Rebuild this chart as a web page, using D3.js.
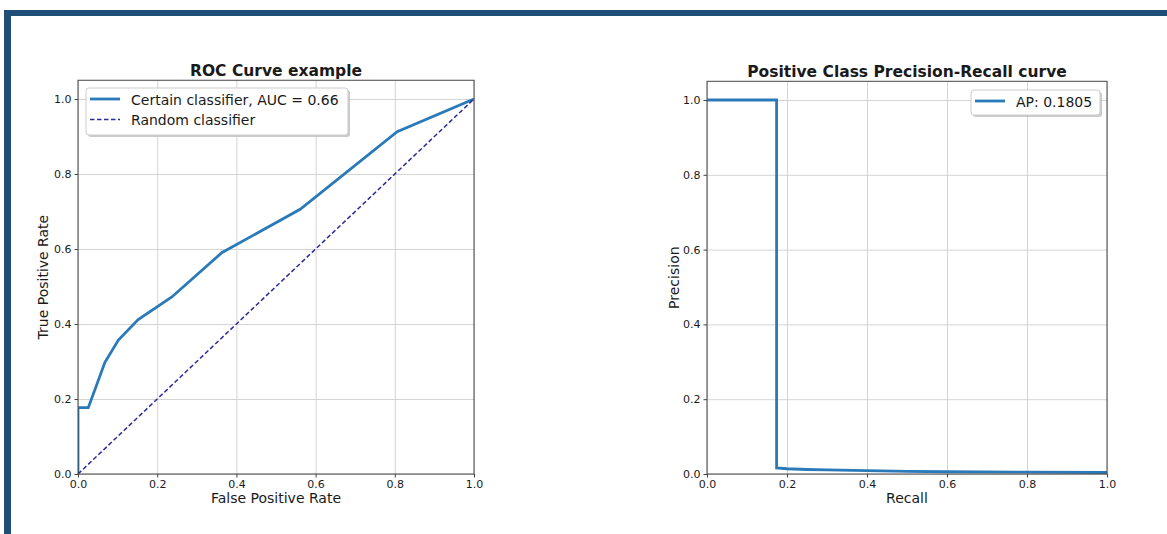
<!DOCTYPE html>
<html>
<head>
<meta charset="utf-8">
<script src="https://cdn.jsdelivr.net/npm/d3@7"></script>
<style>
  body { margin: 0; background: #fff; }
  text { font-family: "DejaVu Sans", sans-serif; fill: #1a1a1a; }
</style>
</head>
<body>
<div id="chart"></div>
<script>
// ROC curve
const rocFpr = [0, 0, 0.026, 0.068, 0.102, 0.152, 0.237, 0.363, 0.561, 0.806, 1.0];
const rocTpr = [0, 0.177, 0.177, 0.298, 0.357, 0.412, 0.472, 0.59, 0.706, 0.913, 1.0];
const randomLine = [0, 1];

// precision-recall curve
const prRecall    = [0, 0.174, 0.174, 0.2, 0.25, 0.3, 0.4, 0.5, 0.6, 0.8, 1.0];
const prPrecision = [1, 1, 0.016, 0.014, 0.012, 0.011, 0.009, 0.007, 0.006, 0.005, 0.004];

const tickValues = [0, 0.2, 0.4, 0.6, 0.8, 1.0];

const rocLabels = ['Certain classifier, AUC = 0.66', 'Random classifier'];
const prLabels = ['AP: 0.1805'];

const blue = '#2a7ab9';
const navy = '#2a2a98';

const svg = d3.select('#chart').append('svg')
    .attr('width', 1167)
    .attr('height', 534);

// page frame (dark blue bars on top and left)
svg.append('rect').attr('x', 4).attr('y', 10).attr('width', 1163).attr('height', 6).attr('fill', '#1f4e79');
svg.append('rect').attr('x', 4).attr('y', 10).attr('width', 7).attr('height', 524).attr('fill', '#1f4e79');

function drawPanel(cfg) {
  const x = d3.scaleLinear().domain([0, 1]).range([cfg.left, cfg.right]);
  const y = d3.scaleLinear().domain([0, 1.05]).range([cfg.bottom, cfg.bottom - 1.05 * cfg.unitY]);
  const top = y(1.05);
  const g = svg.append('g');

  // grid
  g.append('g')
      .attr('transform', `translate(0,${cfg.bottom})`)
      .call(d3.axisBottom(x).tickValues(tickValues).tickSize(-(cfg.bottom - top)).tickFormat(''))
      .call(s => s.select('.domain').remove())
      .call(s => s.selectAll('line').attr('stroke', '#d4d4d4'));
  g.append('g')
      .attr('transform', `translate(${cfg.left},0)`)
      .call(d3.axisLeft(y).tickValues(tickValues).tickSize(-(cfg.right - cfg.left)).tickFormat(''))
      .call(s => s.select('.domain').remove())
      .call(s => s.selectAll('line').attr('stroke', '#d4d4d4'));

  // axes
  const fmt = d3.format('.1f');
  g.append('g')
      .attr('transform', `translate(0,${cfg.bottom})`)
      .call(d3.axisBottom(x).tickValues(tickValues).tickFormat(fmt).tickSize(3.5).tickPadding(3))
      .call(s => s.select('.domain').remove())
      .call(s => s.selectAll('line').attr('stroke', '#444'))
      .call(s => s.selectAll('text').attr('font-size', 11).attr('font-family', 'DejaVu Sans').attr('fill', '#1a1a1a'));
  g.append('g')
      .attr('transform', `translate(${cfg.left},0)`)
      .call(d3.axisLeft(y).tickValues(tickValues).tickFormat(fmt).tickSize(3.5).tickPadding(3))
      .call(s => s.select('.domain').remove())
      .call(s => s.selectAll('line').attr('stroke', '#444'))
      .call(s => s.selectAll('text').attr('font-size', 11).attr('font-family', 'DejaVu Sans').attr('fill', '#1a1a1a'));

  const clipId = 'clip-' + cfg.id;
  svg.append('clipPath').attr('id', clipId)
    .append('rect')
      .attr('x', cfg.left).attr('y', top)
      .attr('width', cfg.right - cfg.left).attr('height', cfg.bottom - top);

  const plot = g.append('g').attr('clip-path', `url(#${clipId})`);
  const line = d3.line().x(d => x(d[0])).y(d => y(d[1]));

  cfg.series.forEach(s => {
    plot.append('path')
        .datum(d3.zip(s.xs, s.ys))
        .attr('d', line)
        .attr('fill', 'none')
        .attr('stroke', s.color)
        .attr('stroke-width', s.width)
        .attr('stroke-dasharray', s.dash || null);
  });

  // frame
  g.append('rect')
      .attr('x', cfg.left).attr('y', top)
      .attr('width', cfg.right - cfg.left).attr('height', cfg.bottom - top)
      .attr('fill', 'none').attr('stroke', '#444').attr('stroke-width', 1);

  // titles
  g.append('text')
      .attr('x', (cfg.left + cfg.right) / 2).attr('y', top - 4)
      .attr('text-anchor', 'middle').attr('font-size', 15.5).attr('font-weight', 'bold')
      .attr('fill', '#000')
      .text(cfg.title);
  g.append('text')
      .attr('x', (cfg.left + cfg.right) / 2).attr('y', cfg.bottom + 29)
      .attr('text-anchor', 'middle').attr('font-size', 14)
      .text(cfg.xLabel);
  g.append('text')
      .attr('transform', `translate(${cfg.yLabelX},${(top + cfg.bottom) / 2}) rotate(-90)`)
      .attr('text-anchor', 'middle').attr('font-size', 14)
      .text(cfg.yLabel);

  // legend
  const lg = cfg.legend;
  g.append('rect')
      .attr('x', lg.x + 2).attr('y', lg.y + 2)
      .attr('width', lg.w).attr('height', lg.h).attr('rx', 3)
      .attr('fill', '#bdbdbd').attr('opacity', 0.8);
  g.append('rect')
      .attr('x', lg.x).attr('y', lg.y)
      .attr('width', lg.w).attr('height', lg.h).attr('rx', 3)
      .attr('fill', '#fff').attr('stroke', '#cccccc');
  cfg.series.forEach((s, i) => {
    const ly = lg.y + 11 + i * 20.5;
    g.append('line')
        .attr('x1', lg.x + 4).attr('x2', lg.x + 34)
        .attr('y1', ly).attr('y2', ly)
        .attr('stroke', s.color).attr('stroke-width', s.width)
        .attr('stroke-dasharray', s.dash || null);
    g.append('text')
        .attr('x', lg.x + 45).attr('y', ly + 5.5)
        .attr('font-size', 14)
        .text(s.label);
  });
}

drawPanel({
  id: 'roc',
  left: 78, right: 474, bottom: 474, unitY: 375,
  title: 'ROC Curve example',
  xLabel: 'False Positive Rate',
  yLabel: 'True Positive Rate',
  yLabelX: 48,
  legend: {x: 86, y: 88, w: 262, h: 47},
  series: [
    {xs: rocFpr, ys: rocTpr, color: blue, width: 2.8, label: rocLabels[0]},
    {xs: randomLine, ys: randomLine, color: navy, width: 1.5, dash: '4.5,2.5', label: rocLabels[1]}
  ]
});

drawPanel({
  id: 'pr',
  left: 707, right: 1107, bottom: 474, unitY: 374,
  title: 'Positive Class Precision-Recall curve',
  xLabel: 'Recall',
  yLabel: 'Precision',
  yLabelX: 679,
  legend: {x: 971, y: 90, w: 129, h: 25},
  series: [
    {xs: prRecall, ys: prPrecision, color: blue, width: 2.8, label: prLabels[0]}
  ]
});
</script>
</body>
</html>
